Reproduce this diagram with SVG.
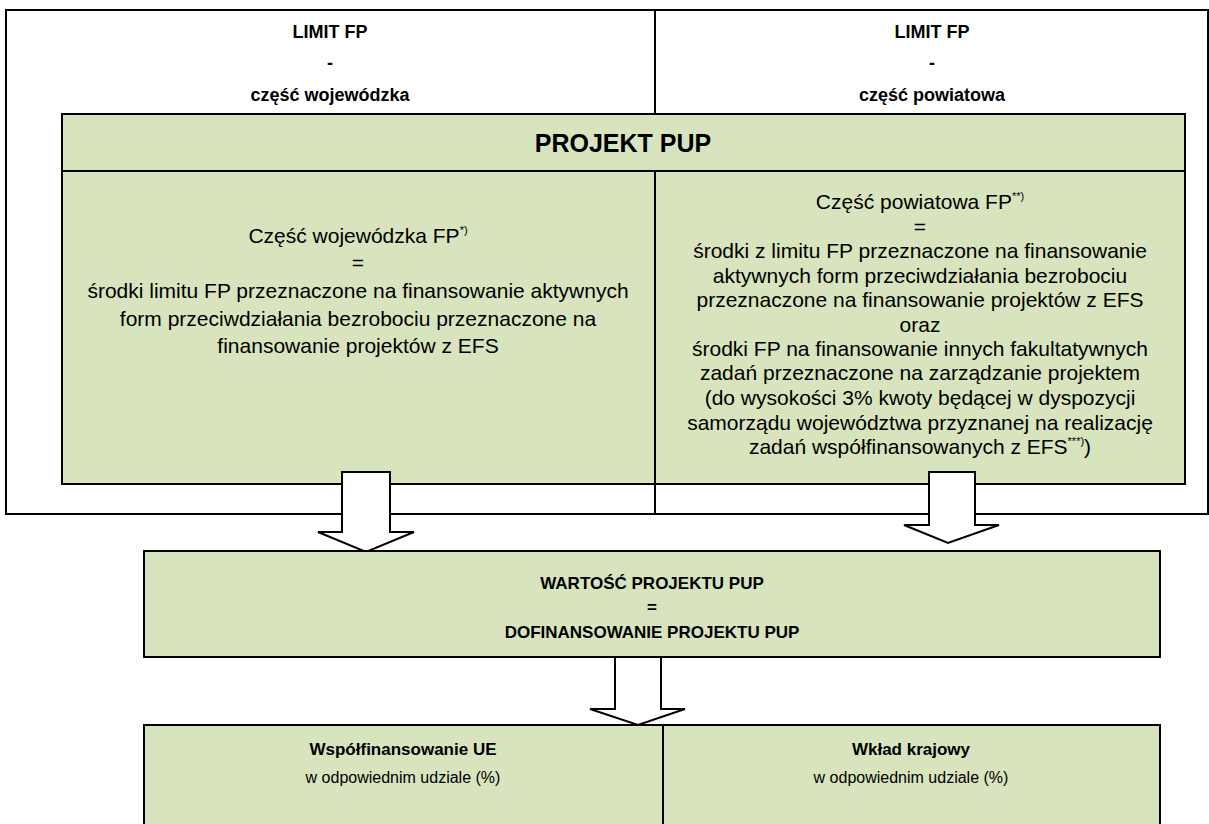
<svg xmlns="http://www.w3.org/2000/svg" width="1209" height="824" viewBox="0 0 1209 824">
<style>
.box{fill:#d7e4bd;stroke:#000;stroke-width:2}
.frame{fill:none;stroke:#000;stroke-width:2}
.ln{stroke:#000;stroke-width:2;fill:none}
.arr{fill:#fff;stroke:#000;stroke-width:2;stroke-linejoin:miter}
text{font-family:"Liberation Sans",Arial,sans-serif;fill:#000;text-anchor:middle}
.tb{font-weight:bold;font-size:18px}
.hb{font-weight:bold;font-size:25px}
.bd{font-size:21px}
.mb{font-weight:bold;font-size:17px}
.bb{font-weight:bold;font-size:17px}
.sm{font-size:16px}
.sup{font-size:11px}
</style>
<rect width="1209" height="824" fill="#fff"/>
<g id="limit-frame">
<rect class="frame" x="6" y="10" width="1202" height="504"/>
<line class="ln" x1="655" y1="10" x2="655" y2="514"/>
</g>
<g id="limit-woj">
<text class="tb" x="330" y="38">LIMIT FP</text>
<text class="tb" x="330" y="69">-</text>
<text class="tb" x="330" y="101">część wojewódzka</text>
</g>
<g id="limit-pow">
<text class="tb" x="932" y="38">LIMIT FP</text>
<text class="tb" x="932" y="69">-</text>
<text class="tb" x="932" y="101">część powiatowa</text>
</g>
<g id="projekt-pup">
<rect class="box" x="62" y="114" width="1123" height="370"/>
<line class="ln" x1="62" y1="171" x2="1185" y2="171"/>
<line class="ln" x1="655" y1="171" x2="655" y2="484"/>
<text class="hb" x="623" y="152">PROJEKT PUP</text>
</g>
<g id="czesc-woj">
<text class="bd" x="358" y="243">Część wojewódzka FP<tspan class="sup" dy="-9">*)</tspan></text>
<text class="bd" x="358" y="270">=</text>
<text class="bd" x="358" y="298">środki limitu FP przeznaczone na finansowanie aktywnych</text>
<text class="bd" x="358" y="326">form przeciwdziałania bezrobociu przeznaczone na</text>
<text class="bd" x="358" y="353">finansowanie projektów z EFS</text>
</g>
<g id="czesc-pow">
<text class="bd" x="920" y="209">Część powiatowa FP<tspan class="sup" dy="-9">**)</tspan></text>
<text class="bd" x="920" y="234">=</text>
<text class="bd" x="920" y="258">środki z limitu FP przeznaczone na finansowanie</text>
<text class="bd" x="920" y="283">aktywnych form przeciwdziałania bezrobociu</text>
<text class="bd" x="920" y="307">przeznaczone na finansowanie projektów z EFS</text>
<text class="bd" x="920" y="332">oraz</text>
<text class="bd" x="920" y="356">środki FP na finansowanie innych fakultatywnych</text>
<text class="bd" x="920" y="380">zadań przeznaczone na zarządzanie projektem</text>
<text class="bd" x="920" y="405">(do wysokości 3% kwoty będącej w dyspozycji</text>
<text class="bd" x="920" y="430">samorządu województwa przyznanej na realizację</text>
<text class="bd" x="920" y="454">zadań współfinansowanych z EFS<tspan class="sup" dy="-9">***)</tspan><tspan dy="9">)</tspan></text>
</g>
<g id="connectors">
<polygon class="arr" points="342,472 390,472 390,532 414,532 366,552 318,532 342,532"/>
<polygon class="arr" points="929,472 975,472 975,525 999,525 948,543 904,525 929,525"/>
<polygon class="arr" points="615,657 661,657 661,709 685,709 638,725 590,709 615,709"/>
</g>
<g id="wartosc">
<rect class="box" x="144" y="551" width="1016" height="106"/>
<text class="mb" x="652" y="589">WARTOŚĆ PROJEKTU PUP</text>
<text class="mb" x="652" y="613">=</text>
<text class="mb" x="652" y="638">DOFINANSOWANIE PROJEKTU PUP</text>
</g>
<g id="wspolfinansowanie">
<rect class="box" x="144" y="725" width="519" height="110"/>
<text class="bb" x="403" y="755">Współfinansowanie UE</text>
<text class="sm" x="403" y="783">w odpowiednim udziale (%)</text>
</g>
<g id="wklad">
<rect class="box" x="663" y="725" width="497" height="110"/>
<text class="bb" x="911" y="755">Wkład krajowy</text>
<text class="sm" x="911" y="783">w odpowiednim udziale (%)</text>
</g>
</svg>
